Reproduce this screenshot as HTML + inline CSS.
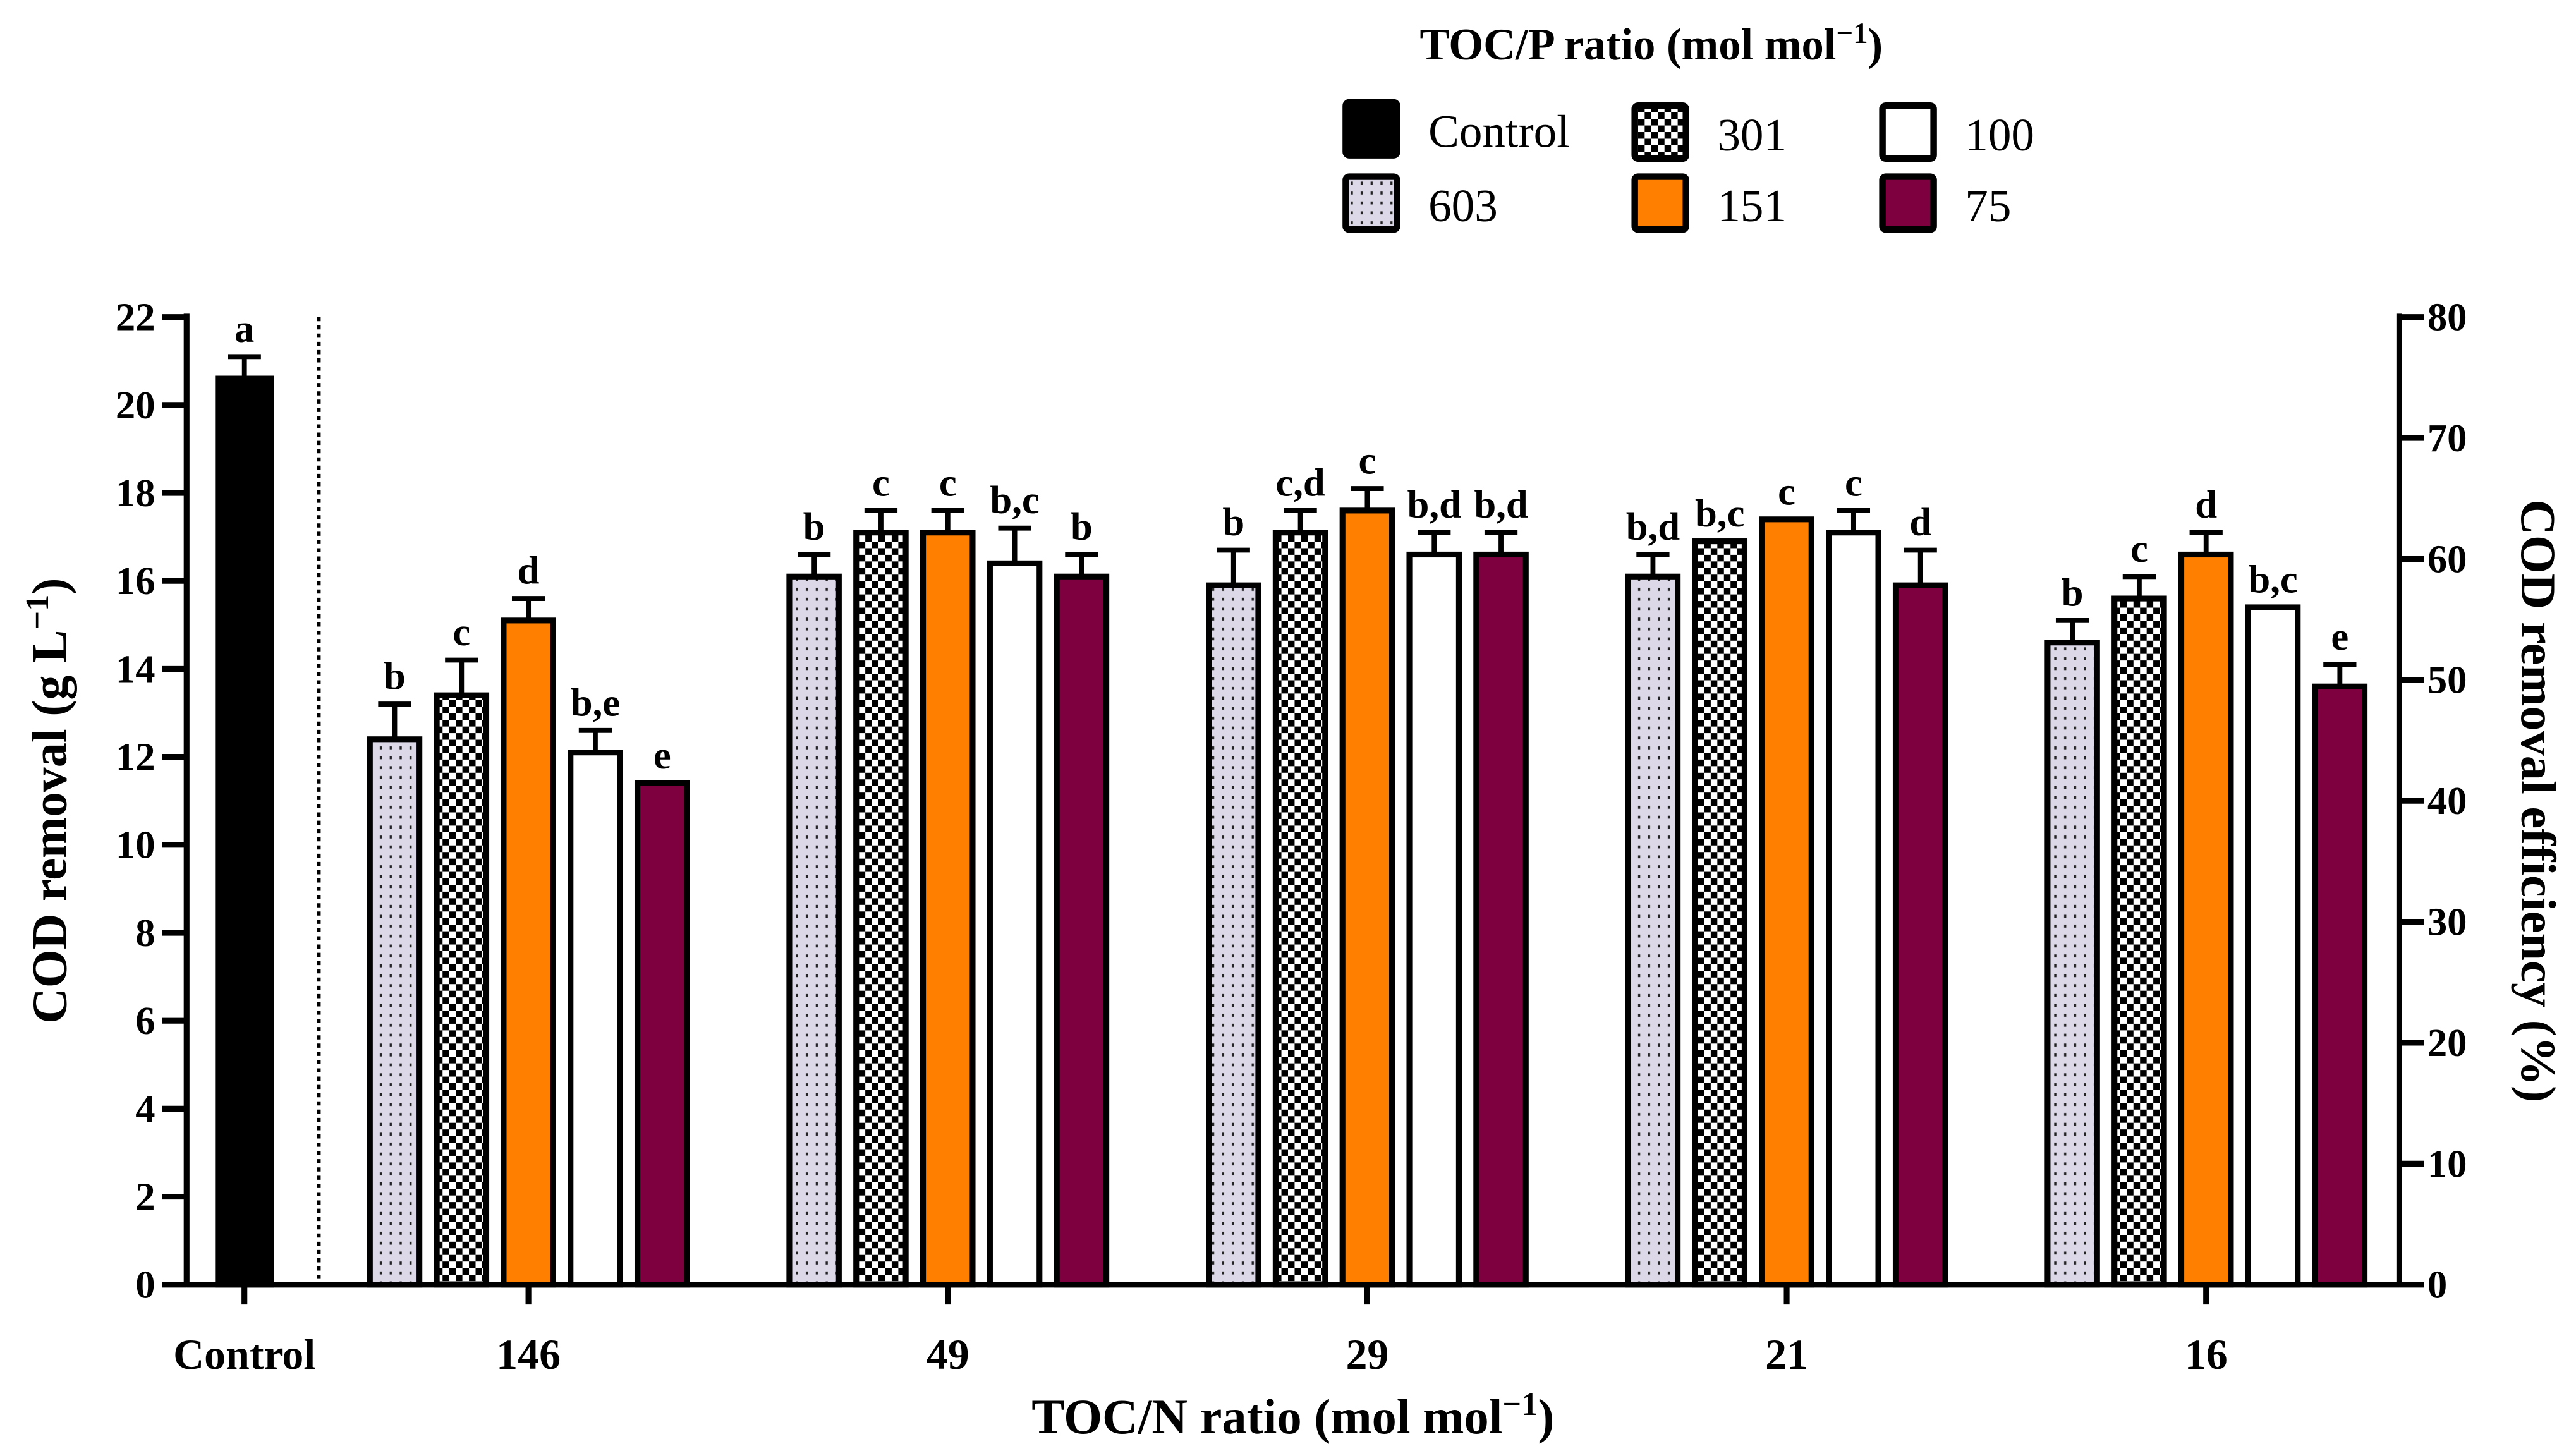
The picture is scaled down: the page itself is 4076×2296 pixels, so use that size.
<!DOCTYPE html>
<html><head><meta charset="utf-8"><style>
html,body{margin:0;padding:0;background:#fff;}
svg{display:block;}
text{font-family:"Liberation Serif",serif;}
</style></head><body>
<svg id="chart" width="4076" height="2296" viewBox="0 0 1560 878.75" xmlns="http://www.w3.org/2000/svg">
<defs>
<pattern id="pDots" width="6" height="6" patternUnits="userSpaceOnUse"><rect width="6" height="6" fill="#dcd8e8"/><rect x="2" y="2" width="1.3" height="1.8" fill="#222"/></pattern>
<pattern id="pCheck" width="8" height="8" patternUnits="userSpaceOnUse"><rect width="8" height="8" fill="#fff"/><rect width="4" height="4" fill="#000"/><rect x="4" y="4" width="4" height="4" fill="#000"/></pattern>
</defs>
<g id="legend"></g>
<g id="axes"></g>
<g id="bars"></g>
</svg>
<script>
const groups = ["146","49","29","21","16"];
const series = ["603","301","151","100","75"];
const controlValue = 20.6;
const controlErr = 0.5;
const controlLetter = "a";
const values = [
 [12.4,13.4,15.1,12.1,11.4],
 [16.1,17.1,17.1,16.4,16.1],
 [15.9,17.1,17.6,16.6,16.6],
 [16.1,16.9,17.4,17.1,15.9],
 [14.6,15.6,16.6,15.4,13.6]
];
const errors = [
 [0.8,0.8,0.5,0.5,0],
 [0.5,0.5,0.5,0.8,0.5],
 [0.8,0.5,0.5,0.5,0.5],
 [0.5,0,0,0.5,0.8],
 [0.5,0.5,0.5,0,0.5]
];
const letters = [
 ["b","c","d","b,e","e"],
 ["b","c","c","b,c","b"],
 ["b","c,d","c","b,d","b,d"],
 ["b,d","b,c","c","c","d"],
 ["b","c","d","b,c","e"]
];
const leftTicks = [0,2,4,6,8,10,12,14,16,18,20,22];
const rightTicks = [0,10,20,30,40,50,60,70,80];

const NS="http://www.w3.org/2000/svg";
const X0=113, X1=1453, Y0=778, Y22=192;
const y = v => Y0 - (v/22)*(Y0-Y22);
const yR = v => Y0 - (v/80)*(Y0-Y22);
const groupX = i => 320 + i*254;
const fills = ["url(#pDots)","url(#pCheck)","#ff8000","#ffffff","#7f003f"];
function mk(tag, attrs, parent, txt){const e=document.createElementNS(NS,tag);for(const k in attrs)e.setAttribute(k,attrs[k]);if(txt!==undefined)e.textContent=txt;parent.appendChild(e);return e;}
const axes=document.getElementById('axes'), bars=document.getElementById('bars'), leg=document.getElementById('legend');

let e=mk('line',{x1:X0,y1:Y22-2,x2:X0,y2:Y0+1.5,stroke:'#000','stroke-width':3.5},axes);


e=mk('line',{x1:X1,y1:Y22-2,x2:X1,y2:Y0+1.5,stroke:'#000','stroke-width':3.5},axes);


e=mk('line',{x1:X0,y1:Y0,x2:X1,y2:Y0,stroke:'#000','stroke-width':3.5},axes);


leftTicks.forEach(t=>{
 mk('line',{x1:X0-15,y1:y(t),x2:X0,y2:y(t),stroke:'#000','stroke-width':3.5},axes);
 const tx=mk('text',{x:X0-19,y:y(t)+8,'text-anchor':'end','font-size':24,'font-weight':'bold'},axes,String(t));
 
 
});
rightTicks.forEach(t=>{
 mk('line',{x1:X1,y1:yR(t),x2:X1+15,y2:yR(t),stroke:'#000','stroke-width':3.5},axes);
 const tx=mk('text',{x:X1+17,y:yR(t)+8,'text-anchor':'start','font-size':24,'font-weight':'bold'},axes,String(t));
 
 
});
const xCats=[{x:148,l:"Control"}].concat(groups.map((g,i)=>({x:groupX(i),l:g})));
xCats.forEach(c=>{
 mk('line',{x1:c.x,y1:Y0,x2:c.x,y2:Y0+12,stroke:'#000','stroke-width':3.5},axes);
 const tx=mk('text',{x:c.x,y:829,'text-anchor':'middle','font-size':26,'font-weight':'bold'},axes,c.l);
 
 
});
e=mk('line',{x1:193,y1:Y22,x2:193,y2:Y0,stroke:'#000','stroke-width':2.4,'stroke-dasharray':'2.5,2.5'},axes);


e=mk('text',{x:783,y:868,'text-anchor':'middle','font-size':30,'font-weight':'bold'},axes);
e.innerHTML='TOC/N ratio (mol mol<tspan dy="-11" font-size="20">−1</tspan><tspan dy="11">)</tspan>';


e=mk('text',{x:0,y:0,'text-anchor':'middle','font-size':30,'font-weight':'bold',transform:'translate(40,485) rotate(-90)'},axes);
e.innerHTML='COD removal (g L<tspan dy="-11" font-size="20">−1</tspan><tspan dy="11">)</tspan>';


e=mk('text',{x:0,y:0,'text-anchor':'middle','font-size':30,'font-weight':'bold',transform:'translate(1527,485) rotate(90)'},axes,'COD removal efficiency (%)');



function bar(cx,v,err,fill,letter,name,w){
 const top=y(v);
 if(err>0){
  mk('line',{x1:cx,y1:top,x2:cx,y2:y(v+err),stroke:'#000','stroke-width':3},bars);
  mk('line',{x1:cx-10,y1:y(v+err),x2:cx+10,y2:y(v+err),stroke:'#000','stroke-width':3},bars);
 }
 const r=mk('rect',{x:cx-w/2,y:top,width:w,height:Y0-top,fill:fill,stroke:'#000','stroke-width':3.5},bars);
 
 
 const t=mk('text',{x:cx,y:y(v+err)-9,'text-anchor':'middle','font-size':24,'font-weight':'bold'},bars,letter);
 
 
}
bar(148,controlValue,controlErr,'#000',controlLetter,'bar-control',32);
groups.forEach((g,i)=>series.forEach((s,j)=>{
 bar(groupX(i)+(j-2)*40.5,values[i][j],errors[i][j],fills[j],letters[i][j],'bar-'+g+'-'+s,30);
}));

e=mk('text',{x:1000,y:36,'text-anchor':'middle','font-size':27,'font-weight':'bold'},leg);
e.innerHTML='TOC/P ratio (mol mol<tspan dy="-10" font-size="18">−1</tspan><tspan dy="10">)</tspan>';


const legItems=[["Control","#000",815,62],["301","url(#pCheck)",990,64],["100","#fff",1140,64],["603","url(#pDots)",815,107],["151","#ff8000",990,107],["75","#7f003f",1140,107]];
legItems.forEach(it=>{
 const g=mk('g',{},leg);
 
 
 mk('rect',{x:it[2],y:it[3],width:31,height:32,fill:it[1],stroke:'#000','stroke-width':4,rx:2},g);
 mk('text',{x:it[2]+50,y:it[3]+27,'font-size':28},g,it[0]);
});
</script>
</body></html>
